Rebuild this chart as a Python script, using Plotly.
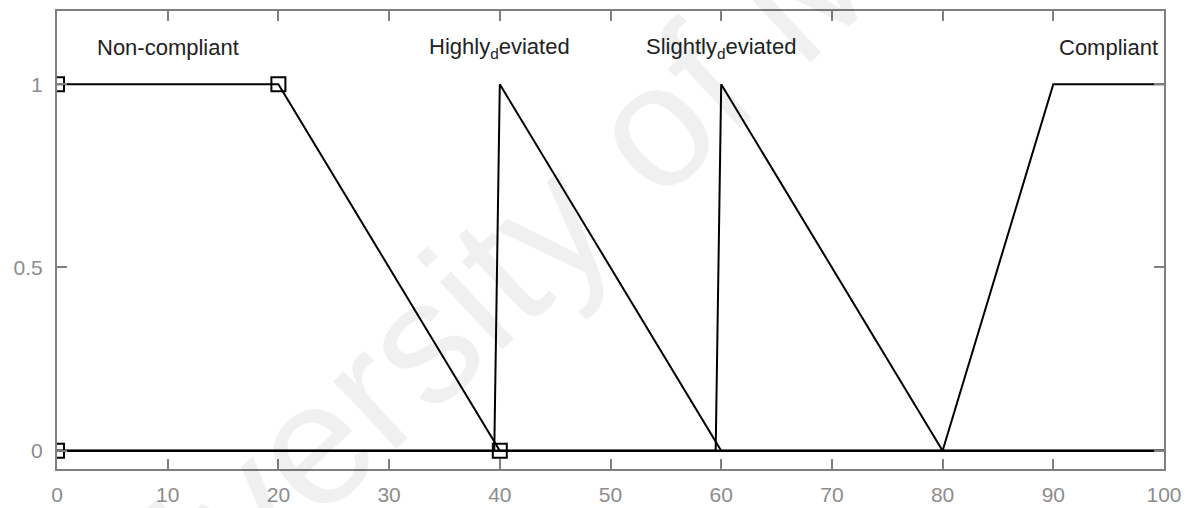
import plotly.graph_objects as go

# Membership functions on the 0-100 universe (breakpoints and grades)
nc_x = [0, 20, 40, 100]
nc_y = [1, 1, 0, 0]
hd_x = [0, 39.5, 40, 60, 100]
hd_y = [0, 0, 1, 0, 0]
sd_x = [0, 59.5, 60, 80, 100]
sd_y = [0, 0, 1, 0, 0]
c_x = [0, 80, 90, 100]
c_y = [0, 0, 1, 1]

# Vertices of the selected MF (Non-compliant, trapmf [0 0 20 40])
sel_x = [0, 0, 20, 40]
sel_y = [0, 1, 1, 0]

# MF names and where they are written
mf_names = ["Non-compliant", "Highly<sub>d</sub>eviated", "Slightly<sub>d</sub>eviated", "Compliant"]
name_x = [10, 40, 60, 95]
name_y = [1.1, 1.1, 1.1, 1.1]

x_ticks = [0, 10, 20, 30, 40, 50, 60, 70, 80, 90, 100]
y_ticks = [0, 0.5, 1]
y_tick_text = ["0", "0.5", "1"]

FONT = "Arial, Liberation Sans, Helvetica, sans-serif"
AXIS_GREY = "#7f7f7f"

fig = go.Figure()
for xs, ys in [(nc_x, nc_y), (hd_x, hd_y), (sd_x, sd_y), (c_x, c_y)]:
    fig.add_trace(go.Scatter(x=xs, y=ys, mode="lines",
                             line=dict(color="black", width=2),
                             hoverinfo="skip", showlegend=False))

fig.add_trace(go.Scatter(x=sel_x, y=sel_y, mode="markers",
                         marker=dict(symbol="square-open", size=14,
                                     color="black", line=dict(width=2, color="black")),
                         hoverinfo="skip", showlegend=False, cliponaxis=True))

for name, nx, ny in zip(mf_names, name_x, name_y):
    fig.add_annotation(x=nx, y=ny, xref="x", yref="y", text=name, showarrow=False,
                       font=dict(family=FONT, size=22, color="#222222"),
                       xanchor="center", yanchor="middle")

# Plotting area in pixels
L, R, T, B = 57, 34, 11, 39
plot_w = 1198 - L - R
plot_h = 508 - T - B

# Faint diagonal watermark, centred at a pixel position
wm_px, wm_py = 595, 180
fig.add_annotation(x=(wm_px - L) / plot_w, y=1 - (wm_py - T) / plot_h,
                   xref="paper", yref="paper", text="University of Malaya",
                   showarrow=False, textangle=-43,
                   font=dict(family=FONT, size=175, color="rgba(0,0,0,0.06)"),
                   xanchor="center", yanchor="middle")

axis_common = dict(showline=True, linecolor=AXIS_GREY, linewidth=2, mirror="ticks",
                   ticks="inside", ticklen=10, tickwidth=1.5, tickcolor=AXIS_GREY,
                   showgrid=False, zeroline=False, automargin=False,
                   tickfont=dict(family=FONT, size=21, color="#8c8c8c"))

fig.update_xaxes(range=[0, 100], tickvals=x_ticks, ticklabelstandoff=6, **axis_common)
fig.update_yaxes(range=[-0.05, 1.2], tickvals=y_ticks, ticktext=y_tick_text,
                 ticklabelstandoff=8, **axis_common)

fig.update_layout(width=1198, height=508,
                  margin=dict(l=L, r=R, t=T, b=B),
                  paper_bgcolor="white", plot_bgcolor="white",
                  font=dict(family=FONT))

fig.write_html("out.html")
